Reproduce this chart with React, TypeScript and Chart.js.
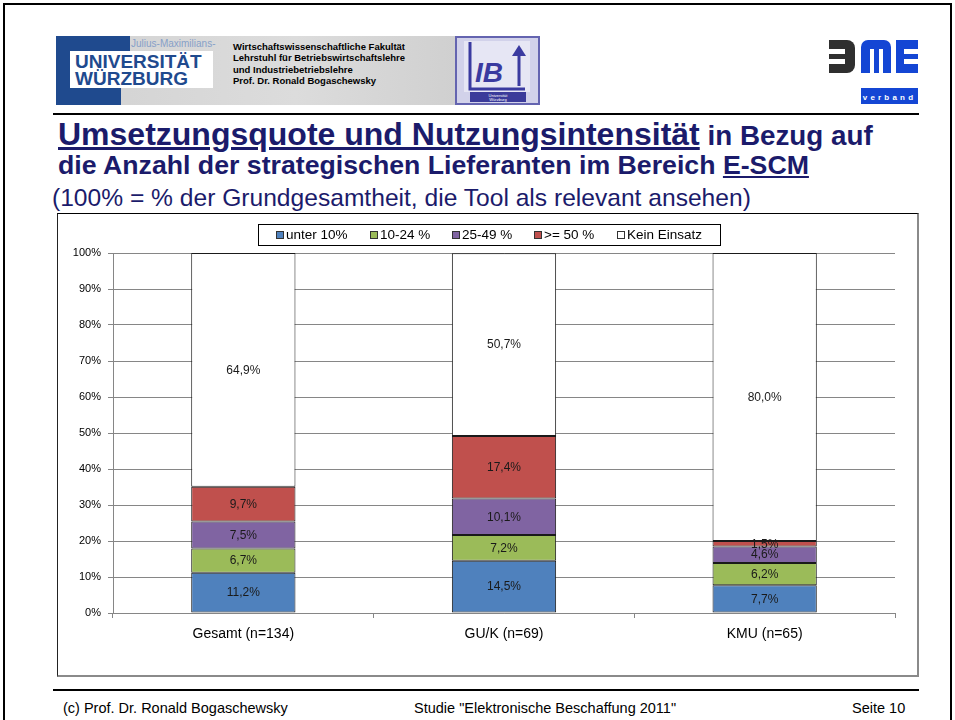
import React, { useEffect, useRef } from 'react';
import { Chart, registerables } from 'chart.js';

Chart.register(...registerables);

// ---- Data ----
const categories = ['Gesamt (n=134)', 'GU/K (n=69)', 'KMU (n=65)'];
const seriesNames = ['unter 10%', '10-24 %', '25-49 %', '>= 50 %', 'Kein Einsatz'];
const under10 = [11.2, 14.5, 7.7];
const from10to24 = [6.7, 7.2, 6.2];
const from25to49 = [7.5, 10.1, 4.6];
const from50 = [9.7, 17.4, 1.5];
const keinEinsatz = [64.9, 50.7, 80.0];
const seriesValues = [under10, from10to24, from25to49, from50, keinEinsatz];
const seriesColors = ['#4F81BD', '#9BBB59', '#8064A2', '#C0504D', '#FFFFFF'];
const yMin = 0;
const yMax = 100;
const yStep = 10;

const FONT = '"Liberation Sans", Arial, Helvetica, sans-serif';
const NARROW = '"Liberation Sans Narrow", "Arial Narrow", "Liberation Sans", Arial, sans-serif';
const NAVY = '#1b1b6b';
const UNI_BLUE = '#1f4a8e';
const BME_BLUE = '#1446d4';

const fmt = (v: number) => v.toFixed(1).replace('.', ',') + '%';

const valueLabels = {
  id: 'valueLabels',
  afterDatasetsDraw(chart: any) {
    const ctx = chart.ctx;
    ctx.save();
    ctx.font = '12px ' + NARROW;
    ctx.fillStyle = '#1a1a1a';
    ctx.textAlign = 'center';
    ctx.textBaseline = 'middle';
    chart.data.datasets.forEach((ds: any, di: number) => {
      const meta = chart.getDatasetMeta(di);
      meta.data.forEach((el: any, i: number) => {
        const p = el.getProps(['x', 'y', 'base'], true);
        ctx.fillText(fmt(ds.data[i]), p.x, (p.y + p.base) / 2 + 0.5);
      });
    });
    ctx.restore();
  },
};

const boxedLegend = {
  id: 'boxedLegend',
  afterDraw(chart: any) {
    const ctx = chart.ctx;
    const box = { x: 200, y: 10, w: 462, h: 21 };
    ctx.save();
    ctx.strokeStyle = '#000';
    ctx.lineWidth = 1;
    ctx.strokeRect(box.x + 0.5, box.y + 0.5, box.w, box.h);
    ctx.font = '13.5px ' + FONT;
    const marker = 8;
    const mgap = 2;
    const gap = 22;
    const items = chart.data.datasets.map((ds: any) => ({
      label: ds.label,
      color: ds.backgroundColor,
      w: ctx.measureText(ds.label).width,
    }));
    const total =
      items.reduce((s: number, it: any) => s + marker + mgap + it.w, 0) + gap * (items.length - 1);
    let x = box.x + (box.w - total) / 2;
    const cy = box.y + box.h / 2 + 0.5;
    ctx.textBaseline = 'middle';
    ctx.textAlign = 'left';
    items.forEach((it: any) => {
      const mx = Math.round(x);
      const my = Math.round(cy - marker / 2);
      ctx.fillStyle = it.color;
      ctx.fillRect(mx, my, marker, marker);
      ctx.strokeStyle = '#333';
      ctx.strokeRect(mx + 0.5, my + 0.5, marker - 1, marker - 1);
      ctx.fillStyle = '#000';
      ctx.fillText(it.label, mx + marker + mgap, cy + 0.5);
      x += marker + mgap + it.w + gap;
    });
    ctx.restore();
  },
};

function BarChart() {
  const ref = useRef<HTMLCanvasElement | null>(null);
  useEffect(() => {
    if (!ref.current) return;
    const chart = new Chart(ref.current, {
      type: 'bar',
      data: {
        labels: categories,
        datasets: seriesNames.map((name, i) => ({
          label: name,
          data: seriesValues[i],
          backgroundColor: seriesColors[i],
          borderColor: '#1a1a1a',
          borderWidth: 1,
          borderSkipped: false,
          categoryPercentage: 0.4,
          barPercentage: 1,
        })),
      },
      options: {
        responsive: false,
        animation: false,
        devicePixelRatio: 1,
        layout: { padding: { top: 39, right: 22, left: 0, bottom: 0 } },
        plugins: {
          legend: { display: false },
          tooltip: { enabled: false },
          title: { display: false },
        },
        scales: {
          x: {
            stacked: true,
            offset: true,
            grid: {
              offset: true,
              drawOnChartArea: false,
              drawTicks: true,
              tickLength: 5,
              color: '#868686',
            },
            border: { color: '#868686' },
            ticks: { font: { family: FONT, size: 14 }, color: '#000', padding: 8 },
            afterFit: (s: any) => {
              s.height = 62;
            },
          },
          y: {
            stacked: true,
            min: yMin,
            max: yMax,
            ticks: {
              stepSize: yStep,
              callback: (v: any) => v + '%',
              font: { family: FONT, size: 11 },
              color: '#000',
              padding: 7,
            },
            grid: { color: '#868686', tickLength: 5 },
            border: { color: '#868686' },
            afterFit: (s: any) => {
              s.width = 55;
            },
          },
        },
      },
      plugins: [valueLabels, boxedLegend],
    } as any);
    return () => chart.destroy();
  }, []);
  return (
    <div
      style={{
        position: 'absolute',
        left: 57,
        top: 213,
        width: 859,
        height: 461,
        borderLeft: '1px solid #222',
        borderTop: '1px solid #000',
        borderRight: '2px solid #8a8a8a',
        borderBottom: '2px solid #8a8a8a',
        background: '#fff',
      }}
    >
      <canvas ref={ref} width={859} height={461} style={{ display: 'block' }} />
    </div>
  );
}

function Header() {
  const abs = (o: any) => ({ position: 'absolute' as const, whiteSpace: 'nowrap' as const, ...o });
  return (
    <>
      {/* Würzburg logo */}
      <div style={abs({ left: 56, top: 36, width: 399, height: 69, background: 'linear-gradient(90deg,#d2d2d2,#dcdcdc 60%,#d0d0d0)' })} />
      <div style={abs({ left: 56, top: 36, width: 14, height: 69, background: UNI_BLUE })} />
      <div style={abs({ left: 56, top: 36, width: 74, height: 15, background: UNI_BLUE })} />
      <div style={abs({ left: 56, top: 88, width: 65, height: 17, background: UNI_BLUE })} />
      <div style={abs({ left: 70, top: 51, width: 143, height: 37, background: '#fff' })} />
      <div style={abs({ left: 131, top: 39, fontFamily: NARROW, fontSize: 10, color: '#87a0c8', lineHeight: 1 })}>
        Julius-Maximilians-
      </div>
      <div style={abs({ left: 75, top: 52, fontFamily: FONT, fontWeight: 'bold', fontSize: 19, color: UNI_BLUE, lineHeight: 1 })}>
        UNIVERSITÄT
      </div>
      <div style={abs({ left: 75, top: 69, fontFamily: FONT, fontWeight: 'bold', fontSize: 19, color: UNI_BLUE, lineHeight: 1 })}>
        WÜRZBURG
      </div>
      <div style={abs({ left: 233, top: 41, fontFamily: FONT, fontWeight: 'bold', fontSize: 9.5, lineHeight: '11.3px', color: '#000' })}>
        Wirtschaftswissenschaftliche Fakultät
        <br />
        Lehrstuhl für Betriebswirtschaftslehre
        <br />
        und Industriebetriebslehre
        <br />
        Prof. Dr. Ronald Bogaschewsky
      </div>
      {/* IBL logo */}
      <svg style={abs({ left: 455, top: 36 })} width={85} height={69}>
        <rect x={1} y={1} width={83} height={67} fill="#d2d2ea" stroke="#6464b0" strokeWidth={2} />
        <rect x={9} y={5} width={66} height={51} fill="#e6e6f4" />
        <path d="M 15 6 V 53 H 70" stroke="#3a3aa0" strokeWidth={3} fill="none" />
        <text x={20} y={46} fontSize={28} fontStyle="italic" fontWeight="bold" fill="#3a3aa0" fontFamily={FONT}>
          IB
        </text>
        <path d="M 64 50 V 14" stroke="#3a3aa0" strokeWidth={3} fill="none" />
        <path d="M 57 20 L 64 9 L 71 20 Z" fill="#3a3aa0" />
        <rect x={15} y={56} width={56} height={10} fill="#3b3b9a" />
        <text x={43} y={60.5} fontSize={4} fill="#fff" textAnchor="middle" fontFamily={FONT}>
          Universität
        </text>
        <text x={43} y={65} fontSize={4} fill="#fff" textAnchor="middle" fontFamily={FONT}>
          Würzburg
        </text>
      </svg>
      {/* BME logo */}
      <svg style={abs({ left: 829, top: 40 })} width={90} height={66}>
        <rect x={0} y={0} width={26} height={33} rx={8} fill="#2f2f2f" />
        <rect x={0} y={9} width={16} height={5} fill="#fff" />
        <rect x={0} y={19} width={16} height={5} fill="#fff" />
        <rect x={0} y={0} width={8} height={9} fill="#2f2f2f" />
        <rect x={0} y={24} width={8} height={9} fill="#2f2f2f" />
        <rect x={32} y={0} width={30} height={33} rx={7} fill={BME_BLUE} />
        <rect x={32} y={20} width={30} height={13} fill={BME_BLUE} />
        <rect x={41} y={9} width={4} height={24} fill="#fff" />
        <rect x={50} y={9} width={4} height={24} fill="#fff" />
        <rect x={67} y={0} width={22} height={33} fill={BME_BLUE} />
        <rect x={75} y={9} width={14} height={5} fill="#fff" />
        <rect x={75} y={19} width={14} height={5} fill="#fff" />
        <rect x={32} y={48} width={57} height={16} fill={BME_BLUE} />
        <text x={60.5} y={59.5} fontSize={8} fontWeight="bold" fill="#fff" textAnchor="middle" letterSpacing={3.2} fontFamily={FONT}>
          verband
        </text>
      </svg>
    </>
  );
}

export default function App() {
  const abs = (o: any) => ({ position: 'absolute' as const, whiteSpace: 'nowrap' as const, ...o });
  return (
    <div
      style={{
        position: 'absolute',
        left: 0,
        top: 0,
        width: 955,
        height: 720,
        overflow: 'hidden',
        background: '#fff',
        fontFamily: FONT,
      }}
    >
      <div style={abs({ left: 3, top: 3, width: 945, height: 740, border: '2px solid #000' })} />
      <Header />
      <div style={abs({ left: 53, top: 113, width: 866, height: 2, background: '#000' })} />
      <div style={abs({ left: 58, top: 117.5, fontSize: 32, lineHeight: 1, fontWeight: 'bold', color: NAVY })}>
        <span style={{ textDecoration: 'underline' }}>Umsetzungsquote und Nutzungsintensität</span>
        <span style={{ fontSize: 27.8 }}> in Bezug auf</span>
      </div>
      <div style={abs({ left: 58, top: 151.5, fontSize: 26.7, lineHeight: 1, fontWeight: 'bold', color: NAVY })}>
        die Anzahl der strategischen Lieferanten im Bereich{' '}
        <span style={{ textDecoration: 'underline' }}>E-SCM</span>
      </div>
      <div style={abs({ left: 52, top: 186, fontSize: 24.6, lineHeight: 1, color: NAVY })}>
        (100% = % der Grundgesamtheit, die Tool als relevant ansehen)
      </div>
      <BarChart />
      <div style={abs({ left: 53, top: 689, width: 866, height: 2, background: '#000' })} />
      <div style={abs({ left: 63, top: 701, fontSize: 14.5, lineHeight: 1, color: '#000' })}>
        (c) Prof. Dr. Ronald Bogaschewsky
      </div>
      <div style={abs({ left: 414, top: 701, fontSize: 14.5, lineHeight: 1, color: '#000' })}>
        Studie "Elektronische Beschaffung 2011"
      </div>
      <div style={abs({ left: 852, top: 701, fontSize: 14.5, lineHeight: 1, color: '#000' })}>
        Seite 10
      </div>
    </div>
  );
}
